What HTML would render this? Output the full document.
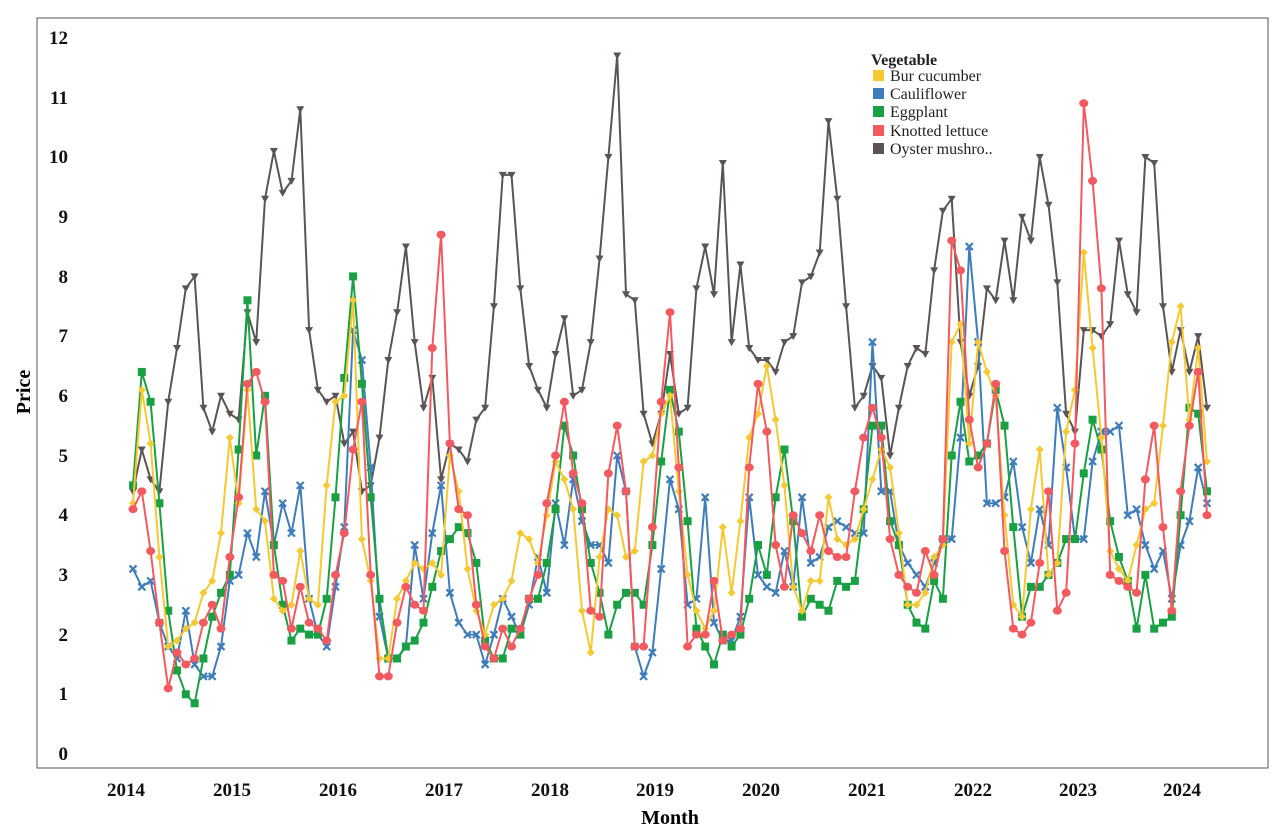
<!DOCTYPE html>
<html><head><meta charset="utf-8"><style>
body{margin:0;background:#fff;width:1280px;height:835px;overflow:hidden}
svg text{font-family:"Liberation Serif",serif}
</style></head><body>
<svg id="s" width="1280" height="835" xmlns="http://www.w3.org/2000/svg">
<rect x="37" y="18" width="1231" height="750" fill="#fff" stroke="#555" stroke-width="1"/>
<g font-size="19" font-weight="bold" text-anchor="end" fill="#111">
<text x="68" y="760">0</text><text x="68" y="700">1</text><text x="68" y="641">2</text><text x="68" y="581">3</text><text x="68" y="521">4</text><text x="68" y="462">5</text><text x="68" y="402">6</text><text x="68" y="342">7</text><text x="68" y="283">8</text><text x="68" y="223">9</text><text x="68" y="163">10</text><text x="68" y="104">11</text><text x="68" y="44">12</text>
</g>
<g font-size="19" font-weight="bold" text-anchor="middle" fill="#111">
<text x="126" y="796">2014</text><text x="232" y="796">2015</text><text x="338" y="796">2016</text><text x="444" y="796">2017</text><text x="550" y="796">2018</text><text x="655" y="796">2019</text><text x="761" y="796">2020</text><text x="867" y="796">2021</text><text x="973" y="796">2022</text><text x="1078" y="796">2023</text><text x="1182" y="796">2024</text>
</g>
<text x="670" y="824" font-size="20" font-weight="bold" text-anchor="middle">Month</text>
<text x="0" y="0" font-size="20" font-weight="bold" text-anchor="middle" transform="translate(30,392) rotate(-90)">Price</text>
<g id="series"></g>
<g font-size="16" fill="#222">
<text x="871" y="65" font-weight="bold">Vegetable</text>
<rect x="873" y="70" width="11" height="11" fill="#F5C932"/><text x="890" y="81">Bur cucumber</text>
<rect x="873" y="88" width="11" height="11" fill="#3E7DBA"/><text x="890" y="99">Cauliflower</text>
<rect x="873" y="106" width="11" height="11" fill="#19A043"/><text x="890" y="117">Eggplant</text>
<rect x="873" y="125" width="11" height="11" fill="#F25A5F"/><text x="890" y="136">Knotted lettuce</text>
<rect x="873" y="143" width="11" height="11" fill="#5B5454"/><text x="890" y="154">Oyster mushro..</text>
</g>
</svg>
<script>
var Y=[4.2,6.1,5.2,3.3,1.8,1.9,2.1,2.2,2.7,2.9,3.7,5.3,4.2,6.1,4.1,3.9,2.6,2.4,2.5,3.4,2.6,2.5,4.5,5.9,6.0,7.6,3.6,2.9,1.6,1.6,2.6,2.9,3.2,3.1,3.2,3.0,5.0,4.4,3.1,2.4,2.0,2.5,2.6,2.9,3.7,3.6,3.2,4.0,4.9,4.6,4.1,2.4,1.7,3.3,4.1,4.0,3.3,3.4,4.9,5.0,5.7,6.0,4.4,3.0,2.4,2.1,2.4,3.8,2.7,3.9,5.3,5.7,6.5,5.6,4.5,2.8,2.4,2.9,2.9,4.3,3.6,3.5,3.6,4.1,4.6,5.1,4.8,3.7,2.5,2.5,2.7,3.3,3.5,6.9,7.2,5.2,6.9,6.4,6.0,4.0,2.5,2.3,4.1,5.1,3.0,3.2,5.4,6.1,8.4,6.8,5.3,3.4,3.1,2.9,3.5,4.1,4.2,5.5,6.9,7.5,5.6,6.8,4.9];
var B=[3.1,2.8,2.9,2.2,1.8,1.6,2.4,1.5,1.3,1.3,1.8,2.9,3.0,3.7,3.3,4.4,3.5,4.2,3.7,4.5,2.6,2.0,1.8,2.8,3.8,7.1,6.6,4.8,2.3,1.6,1.6,1.8,3.5,2.6,3.7,4.5,2.7,2.2,2.0,2.0,1.5,2.0,2.6,2.3,2.0,2.5,3.3,2.7,4.2,3.5,4.6,3.9,3.5,3.5,3.2,5.0,4.4,1.8,1.3,1.7,3.1,4.6,4.1,2.5,2.6,4.3,2.2,1.9,1.9,2.3,4.3,3.0,2.8,2.7,3.4,2.8,4.3,3.2,3.3,3.8,3.9,3.8,3.7,3.7,6.9,4.4,4.4,3.5,3.2,3.0,2.8,3.2,3.6,3.6,5.3,8.5,6.9,4.2,4.2,4.3,4.9,3.8,3.2,4.1,3.5,5.8,4.8,3.6,3.6,4.9,5.4,5.4,5.5,4.0,4.1,3.5,3.1,3.4,2.6,3.5,3.9,4.8,4.2];
var G=[4.5,6.4,5.9,4.2,2.4,1.4,1.0,0.85,1.6,2.3,2.7,3.0,5.1,7.6,5.0,6.0,3.5,2.5,1.9,2.1,2.0,2.0,2.6,4.3,6.3,8.0,6.2,4.3,2.6,1.6,1.6,1.8,1.9,2.2,2.8,3.4,3.6,3.8,3.7,3.2,1.9,1.6,1.6,2.1,2.0,2.6,2.6,3.2,4.1,5.5,5.0,4.1,3.2,2.7,2.0,2.5,2.7,2.7,2.5,3.5,4.9,6.1,5.4,3.9,2.1,1.8,1.5,2.0,1.8,2.0,2.6,3.5,3.0,4.3,5.1,3.9,2.3,2.6,2.5,2.4,2.9,2.8,2.9,4.1,5.5,5.5,3.9,3.5,2.5,2.2,2.1,2.9,2.6,5.0,5.9,4.9,5.0,5.2,6.1,5.5,3.8,2.3,2.8,2.8,3.0,3.2,3.6,3.6,4.7,5.6,5.1,3.9,3.3,2.9,2.1,3.0,2.1,2.2,2.3,4.0,5.8,5.7,4.4];
var R=[4.1,4.4,3.4,2.2,1.1,1.7,1.5,1.6,2.2,2.5,2.1,3.3,4.3,6.2,6.4,5.9,3.0,2.9,2.1,2.8,2.2,2.1,1.9,3.0,3.7,5.1,5.9,3.0,1.3,1.3,2.2,2.8,2.5,2.4,6.8,8.7,5.2,4.1,4.0,2.5,1.8,1.6,2.1,1.8,2.1,2.6,3.0,4.2,5.0,5.9,4.7,4.2,2.4,2.3,4.7,5.5,4.4,1.8,1.8,3.8,5.9,7.4,4.8,1.8,2.0,2.0,2.9,1.9,2.0,2.1,4.8,6.2,5.4,3.5,2.8,4.0,3.7,3.4,4.0,3.4,3.3,3.3,4.4,5.3,5.8,5.3,3.6,3.0,2.8,2.7,3.4,3.0,3.6,8.6,8.1,5.6,4.8,5.2,6.2,3.4,2.1,2.0,2.2,3.2,4.4,2.4,2.7,5.2,10.9,9.6,7.8,3.0,2.9,2.8,2.7,4.6,5.5,3.8,2.4,4.4,5.5,6.4,4.0];
var O=[4.4,5.1,4.6,4.4,5.9,6.8,7.8,8.0,5.8,5.4,6.0,5.7,5.6,7.4,6.9,9.3,10.1,9.4,9.6,10.8,7.1,6.1,5.9,6.0,5.2,5.4,4.4,4.5,5.3,6.6,7.4,8.5,6.9,5.8,6.3,4.6,5.2,5.1,4.9,5.6,5.8,7.5,9.7,9.7,7.8,6.5,6.1,5.8,6.7,7.3,6.0,6.1,6.9,8.3,10.0,11.7,7.7,7.6,5.7,5.2,5.7,6.7,5.7,5.8,7.8,8.5,7.7,9.9,6.9,8.2,6.8,6.6,6.6,6.4,6.9,7.0,7.9,8.0,8.4,10.6,9.3,7.5,5.8,6.0,6.5,6.3,5.0,5.8,6.5,6.8,6.7,8.1,9.1,9.3,6.9,6.0,6.5,7.8,7.6,8.6,7.6,9.0,8.6,10.0,9.2,7.9,5.7,5.4,7.1,7.1,7.0,7.2,8.6,7.7,7.4,10.0,9.9,7.5,6.4,7.1,6.4,7.0,5.8];
var NS="http://www.w3.org/2000/svg",g=document.getElementById("series");
function px(i,n){return 133+i*(1074/(n-1));}
function py(v){return 754-v*59.7;}
function draw(d,c,m){
 var pts=d.map(function(v,i){return px(i,d.length).toFixed(1)+","+py(v).toFixed(1)}).join(" ");
 var pl=document.createElementNS(NS,"polyline");pl.setAttribute("points",pts);pl.setAttribute("fill","none");pl.setAttribute("stroke",c);pl.setAttribute("stroke-width","2");pl.setAttribute("stroke-linejoin","round");g.appendChild(pl);
 d.forEach(function(v,i){var x=px(i,d.length),y=py(v),e;
  if(m=="d"){e=document.createElementNS(NS,"polygon");e.setAttribute("points",x+","+(y-4)+" "+(x+4)+","+y+" "+x+","+(y+4)+" "+(x-4)+","+y);e.setAttribute("fill",c);}
  else if(m=="s"){e=document.createElementNS(NS,"rect");e.setAttribute("x",x-4);e.setAttribute("y",y-4);e.setAttribute("width",8);e.setAttribute("height",8);e.setAttribute("fill",c);}
  else if(m=="o"){e=document.createElementNS(NS,"ellipse");e.setAttribute("cx",x);e.setAttribute("cy",y);e.setAttribute("rx",4.5);e.setAttribute("ry",4);e.setAttribute("fill",c);}
  else if(m=="t"){e=document.createElementNS(NS,"polygon");e.setAttribute("points",(x-4)+","+(y-3)+" "+(x+4)+","+(y-3)+" "+x+","+(y+4));e.setAttribute("fill",c);}
  else {e=document.createElementNS(NS,"path");e.setAttribute("d","M"+(x-3.5)+" "+(y-3.5)+"L"+(x+3.5)+" "+(y+3.5)+"M"+(x+3.5)+" "+(y-3.5)+"L"+(x-3.5)+" "+(y+3.5));e.setAttribute("stroke",c);e.setAttribute("stroke-width","2.2");}
  g.appendChild(e);});
}
draw(O,"#5B5454","t");
draw(B,"#3E7DBA","x");
draw(G,"#19A043","s");
draw(Y,"#F5C932","d");
draw(R,"#F25A5F","o");
</script>
</body></html>
